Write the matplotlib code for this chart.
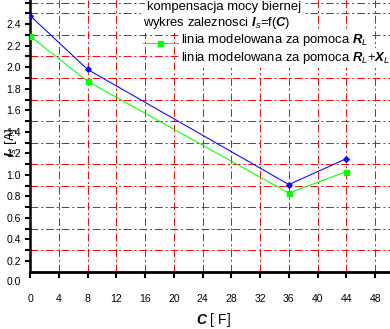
import matplotlib
matplotlib.use('Agg')
import matplotlib.pyplot as plt
from matplotlib.lines import Line2D
from matplotlib.ticker import FixedLocator

plt.rcParams['font.family'] = ['Liberation Sans', 'DejaVu Sans']
plt.rcParams['mathtext.fontset'] = 'custom'
plt.rcParams['mathtext.rm'] = 'Liberation Sans'
plt.rcParams['mathtext.it'] = 'Liberation Sans:italic'
plt.rcParams['mathtext.bf'] = 'Liberation Sans:bold'
plt.rcParams['mathtext.bfit'] = 'Liberation Sans:bold:italic'

# data (C in uF, Is in A)
capacitance = [0, 8, 36, 44]
is_blue = [2.48, 1.98, 0.91, 1.15]
is_green = [2.29, 1.87, 0.83, 1.03]

x_ticks = [0, 4, 8, 12, 16, 20, 24, 28, 32, 36, 40, 44, 48]
y_ticks = [0.2, 0.4, 0.6, 0.8, 1.0, 1.2, 1.4, 1.6, 1.8, 2.0, 2.2, 2.4]
y_grid = [0.3, 0.5, 0.7, 0.9, 1.1, 1.3, 1.5, 1.7, 1.9, 2.1, 2.3, 2.5]

title_lines = ["kompensacja mocy biernej",
               r"wykres zaleznosci $\mathbfit{I}_{s}$=f($\mathbfit{C}$)",
               r"linia modelowana za pomoca $\mathbfit{R}_{L}$",
               r"linia modelowana za pomoca $\mathbfit{R}_{L}$+$\mathbfit{X}_{L}$"]

W, H = 390, 329
fig = plt.figure(figsize=(W / 100, H / 100), dpi=100)
ax = fig.add_axes([30 / W, (H - 271.67) / H, 360 / W, 271.67 / H])

grid_style = dict(color='red', linewidth=0.7, linestyle=(0, (8, 3, 2, 3)))

ax.plot(capacitance, is_blue, color='#0000ff', lw=0.75, marker='D', ms=2.8,
        mfc='#0000ff', mec='#0000ff', zorder=3)
ax.plot(capacitance, is_green, color='#00ff00', lw=0.75, marker='s', ms=3.6,
        mfc='#00ff00', mec='#00ff00', zorder=3)

ax.set_xlim(0, 50.07)
ax.set_ylim(0.1, 2.625)

ax.xaxis.set_major_locator(FixedLocator(x_ticks))
ax.yaxis.set_major_locator(FixedLocator(y_ticks))
ax.yaxis.set_minor_locator(FixedLocator(y_grid + [2.6]))
ax.set_yticklabels([f"{v:.1f}" for v in y_ticks])

ax.grid(True, which='major', axis='x', **grid_style)
ax.grid(True, which='minor', axis='y', **grid_style)
ax.set_axisbelow(True)

for s in ['top', 'right']:
    ax.spines[s].set_visible(False)
ax.spines['bottom'].set_linewidth(2)
ax.spines['left'].set_linewidth(1.8)

ax.tick_params(axis='x', which='major', direction='out', length=4.3, width=1.5,
               pad=11.5, labelsize=7.5)
ax.tick_params(axis='y', which='both', direction='out', length=3.6, width=1.5,
               pad=3, labelsize=7.5)

# the 0.0 label sits below the axis line
ax.annotate("0.0", xy=(0, 0.0), xycoords=('axes fraction', 'data'),
            xytext=(-6.6, 0), textcoords='offset points', ha='right',
            va='center', fontsize=7.5, annotation_clip=False)

# axis titles
fig.text(196 / W, 1 - 320 / H, r"$\mathbfit{C}$ [ F]", fontsize=10,
         ha='left', va='center')
fig.text(11 / W, 1 - 142 / H, r"$\mathbfit{I}_{s}$ [A]", fontsize=9.5,
         rotation=90, ha='center', va='center')

# legend block
box = dict(facecolor='white', edgecolor='none', pad=1.5)
fig.text(146.7 / W, 1 - 10 / H, title_lines[0], fontsize=9.4, va='baseline', bbox=box)
fig.text(143 / W, 1 - 26 / H, title_lines[1], fontsize=9.4, va='baseline', bbox=box)
fig.text(180.7 / W, 1 - 42.5 / H, title_lines[2], fontsize=9.4, va='baseline', bbox=box)
fig.text(180.7 / W, 1 - 61 / H, title_lines[3], fontsize=9.4, va='baseline', bbox=box)

fig.add_artist(Line2D([143 / W, 177 / W], [1 - 25 / H, 1 - 25 / H], color='#0000ff',
                      lw=0.75, transform=fig.transFigure))
fig.add_artist(Line2D([160 / W], [1 - 25 / H], color='#0000ff', marker='D', ms=2.8,
                      transform=fig.transFigure))
fig.add_artist(Line2D([143 / W, 178 / W], [1 - 43.3 / H, 1 - 43.3 / H], color='#00ff00',
                      lw=0.75, transform=fig.transFigure))
fig.add_artist(Line2D([160 / W], [1 - 43.3 / H], color='#00ff00', marker='s', ms=3.6,
                      transform=fig.transFigure))

fig.savefig('out.png', dpi=100)
